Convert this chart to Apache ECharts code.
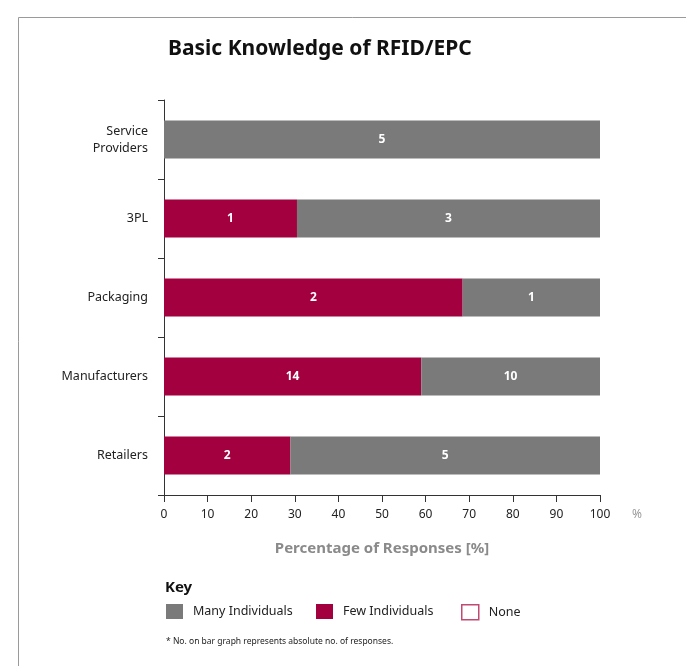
<!DOCTYPE html>
<html><head><meta charset="utf-8">
<script src="https://cdn.jsdelivr.net/npm/echarts@6/dist/echarts.min.js"></script>
<style>html,body{margin:0;padding:0;background:#fff}#c{width:686px;height:666px}</style>
</head><body><div id="c"></div>
<script>
var categories = ['Retailers', 'Manufacturers', 'Packaging', '3PL', 'Service\nProviders'];
var fewPct = [29, 59, 68.5, 30.5, 0];
var manyPct = [71, 41, 31.5, 69.5, 100];
var nonePct = [0, 0, 0, 0, 0];
var fewCounts = [2, 14, 2, 1, 0];
var manyCounts = [5, 10, 1, 3, 5];
var xTicks = { min: 0, max: 100, interval: 10 };

var FONT = 'Noto Sans';
var GRAY = '#7a7a7a', CRIM = '#a3003f';
var chart = echarts.init(document.getElementById('c'), null, { renderer: 'canvas' });
function lbl(counts) {
  return { show: true, position: 'inside', color: '#fff', fontWeight: 'bold', fontSize: 12, fontFamily: FONT,
    formatter: function (p) { return counts[p.dataIndex] ? String(counts[p.dataIndex]) : ''; } };
}
var legendBase = { orient: 'horizontal', icon: 'rect', itemWidth: 17, itemHeight: 15, itemGap: 10,
  textStyle: { fontFamily: FONT, fontSize: 12.5, color: '#222', padding: [0, 0, 0, 5] }, selectedMode: false, padding: 0 };
chart.setOption({
  animation: false,
  grid: { left: 164, right: 86, top: 100, bottom: 171, containLabel: false },
  xAxis: {
    type: 'value', min: xTicks.min, max: xTicks.max, interval: xTicks.interval,
    splitLine: { show: false },
    axisLine: { show: true, lineStyle: { color: '#333', width: 1 } },
    axisTick: { show: true, length: 7, lineStyle: { color: '#333' } },
    axisLabel: { fontFamily: FONT, fontSize: 12, color: '#222', margin: 14 },
    name: 'Percentage of Responses [%]', nameLocation: 'middle', nameGap: 46,
    nameTextStyle: { fontFamily: FONT, fontSize: 15, fontWeight: 'bold', color: '#8a8a8a' }
  },
  yAxis: {
    type: 'category', data: categories,
    axisLine: { show: true, lineStyle: { color: '#333', width: 1 } },
    axisTick: { show: true, length: 6, lineStyle: { color: '#333' } },
    axisLabel: { fontFamily: FONT, fontSize: 12.5, color: '#222', margin: 16, lineHeight: 17, align: 'right' }
  },
  legend: [
    Object.assign({}, legendBase, { left: 166, top: 604, data: ['Many Individuals'] }),
    Object.assign({}, legendBase, { left: 316, top: 604, data: ['Few Individuals'] }),
    Object.assign({}, legendBase, { left: 461, top: 604, data: [{ name: 'None', itemStyle: { color: '#fff', borderColor: '#c04a72', borderWidth: 1.5 } }] })
  ],
  series: [
    { name: 'Few Individuals', type: 'bar', stack: 's', data: fewPct, barWidth: 38,
      itemStyle: { color: CRIM }, label: lbl(fewCounts) },
    { name: 'Many Individuals', type: 'bar', stack: 's', data: manyPct, barWidth: 38,
      itemStyle: { color: GRAY }, label: lbl(manyCounts) },
    { name: 'None', type: 'bar', stack: 's', data: nonePct, barWidth: 38,
      itemStyle: { color: '#fff', borderWidth: 0 } }
  ],
  graphic: [
    { type: 'line', shape: { x1: 18.5, y1: 17.5, x2: 18.5, y2: 666 }, style: { stroke: '#9a9a9a', lineWidth: 1 } },
    { type: 'line', shape: { x1: 18.5, y1: 17.5, x2: 686, y2: 17.5 }, style: { stroke: '#9a9a9a', lineWidth: 1 } },
    { type: 'text', left: 168, top: 39, style: { text: 'Basic Knowledge of RFID/EPC', fontFamily: FONT, fontSize: 21, fontWeight: 'bold', fill: '#111' } },
    { type: 'text', left: 632, top: 509, style: { text: '%', fontFamily: FONT, fontSize: 12, fill: '#9a9a9a' } },
    { type: 'text', left: 165, top: 580, style: { text: 'Key', fontFamily: FONT, fontSize: 15, fontWeight: 'bold', fill: '#111' } },
    { type: 'text', left: 166, top: 637, style: { text: '* No. on bar graph represents absolute no. of responses.', fontFamily: FONT, fontSize: 8.5, fill: '#222' } }
  ]
});
</script></body></html>
